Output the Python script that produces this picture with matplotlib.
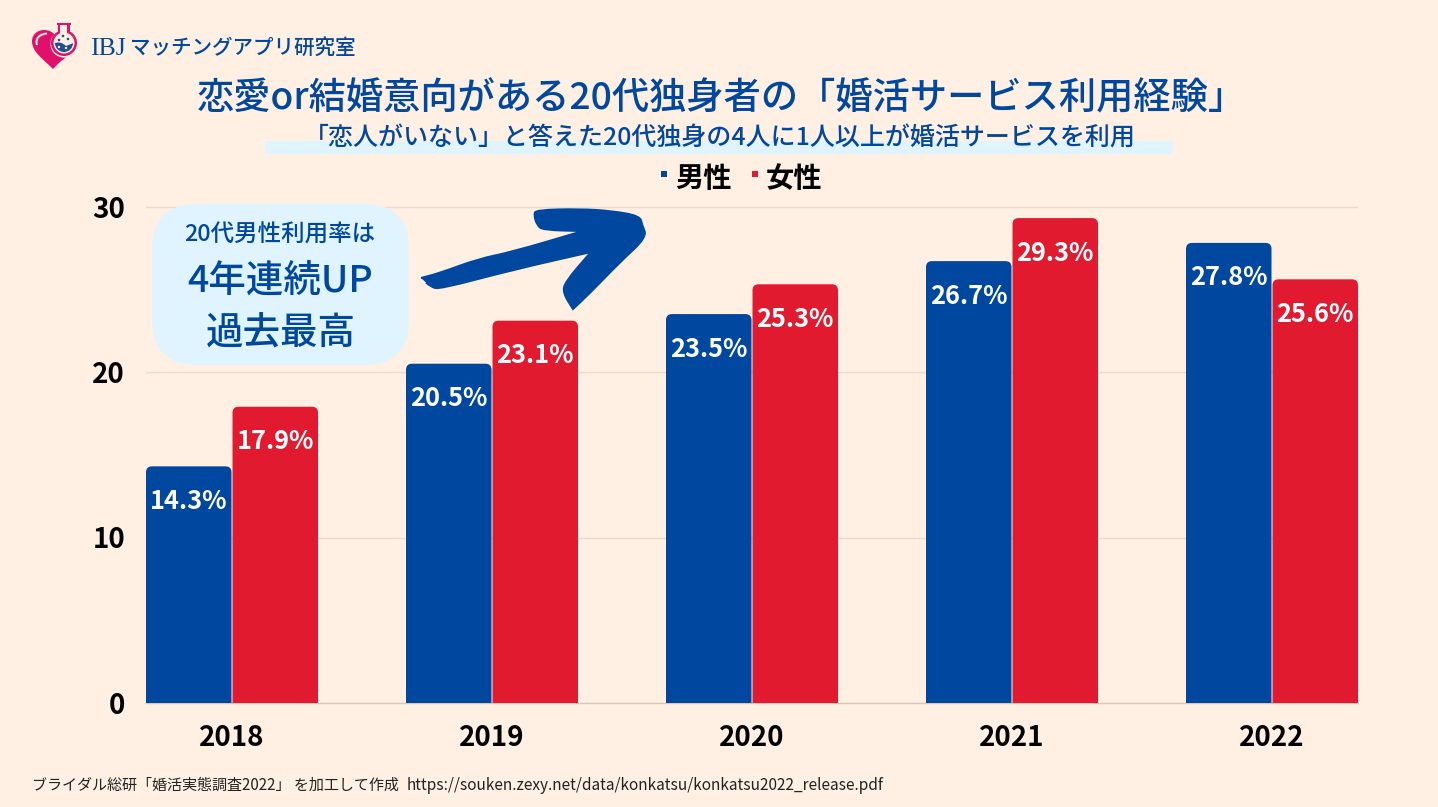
import matplotlib
matplotlib.use("Agg")
import matplotlib.pyplot as plt
from matplotlib.patches import FancyBboxPatch, Rectangle, Circle, PathPatch
from matplotlib.path import Path

plt.rcParams['font.family'] = ['Noto Sans CJK JP', 'DejaVu Sans']

years = ["2018", "2019", "2020", "2021", "2022"]
male = [14.3, 20.5, 23.5, 26.7, 27.8]
female = [17.9, 23.1, 25.3, 29.3, 25.6]
y_ticks = [0, 10, 20, 30]
series_names = ["男性", "女性"]

title = "恋愛or結婚意向がある20代独身者の「婚活サービス利用経験」"
subtitle = "「恋人がいない」と答えた20代独身の4人に1人以上が婚活サービスを利用"
source_ja = "ブライダル総研「婚活実態調査2022」 を加工して作成"
source_url = "https://souken.zexy.net/data/konkatsu/konkatsu2022_release.pdf"

BG = "#FFF0E3"
BLUE = "#0047A0"
RED = "#E21A30"
PALE = "#E0F4FF"
GRID = "#EADBCC"
PINK = "#E0116B"
NAVY = "#20508F"
W, H = 1438, 807

fig = plt.figure(figsize=(W / 100, H / 100), dpi=100, facecolor=BG)

# plot area in pixels
L, R, T, B = 146, 1358, 206.5, 703
ax = fig.add_axes([L / W, 1 - B / H, (R - L) / W, (B - T) / H], facecolor="none")
unit = 260.0
half = 86.0 / unit
ax.set_xlim(-half, len(years) - 1 + half)
ax.set_ylim(0, 30)
ypx = (B - T) / 30.0
bw = 85.5 / unit
gap = 1.0 / unit
aspect = unit / ypx
radius = 6.0 / unit

def rounded_bar(x, v, color):
    p = FancyBboxPatch((x, -1), bw, v + 1,
                       boxstyle=f"round,pad=0,rounding_size={radius}",
                       mutation_aspect=aspect, fc=color, ec="none", zorder=3)
    ax.add_patch(p)
    p.set_clip_path(ax.patch)

for i, (m, f) in enumerate(zip(male, female)):
    x0 = i - bw - gap / 2
    x1 = i + gap / 2
    rounded_bar(x0, m, BLUE)
    rounded_bar(x1, f, RED)
    ax.annotate(f"{m:.1f}%", (x0 + bw / 2, m), xytext=(0, -25.2), textcoords="offset points",
                ha="center", va="center", color="white", fontsize=18.3, fontweight="bold", zorder=4)
    ax.annotate(f"{f:.1f}%", (x1 + bw / 2, f), xytext=(0, -25.2), textcoords="offset points",
                ha="center", va="center", color="white", fontsize=18.3, fontweight="bold", zorder=4)

ax.set_yticks(y_ticks)
ax.set_xticks(range(len(years)), years)
ax.tick_params(axis="both", length=0, labelsize=20, colors="black")
ax.tick_params(axis="x", pad=15)
ax.tick_params(axis="y", pad=15)
for lab in ax.get_xticklabels() + ax.get_yticklabels():
    lab.set_fontweight("bold")
ax.yaxis.grid(True, color=GRID, lw=1, zorder=0)
ax.set_axisbelow(True)
for s in ax.spines.values():
    s.set_visible(False)
ax.spines["bottom"].set_visible(True)
ax.spines["bottom"].set_color("#D9C8B8")
ax.spines["bottom"].set_linewidth(1)

# overlay in pixel coordinates
ov = fig.add_axes([0, 0, 1, 1], facecolor="none")
ov.set_xlim(0, W)
ov.set_ylim(H, 0)
ov.axis("off")

# logo
C4, C3, MV, LN = Path.CURVE4, Path.CURVE3, Path.MOVETO, Path.LINETO
heart = Path(
    [(53, 69), (42, 58), (32, 52), (32, 41), (32, 34), (38, 30), (44, 30),
     (49, 30), (53, 32), (56, 36), (60, 36), (70, 40), (74, 48), (70, 54), (60, 62), (53, 69)],
    [MV, C4, C4, C4, C4, C4, C4, C4, C4, C4, LN, LN, LN, LN, LN, LN])
ov.add_patch(PathPatch(heart, fc=PINK, ec="none"))
ov.add_patch(PathPatch(Path([(37, 45), (35, 38), (40, 34), (47, 33.5)], [MV, C4, C4, C4]),
                       fc="none", ec=BG, lw=1.4))
ov.add_patch(Circle((64, 44), 13.6, fc=BG, ec="none"))
ov.add_patch(Circle((64, 43), 13, fc=PINK, ec="none"))
ov.add_patch(Rectangle((57.5, 24), 12, 12, fc=PINK, ec="none"))
ov.add_patch(Rectangle((56.5, 23), 14, 2.4, fc=PINK, ec="none"))
ov.add_patch(Circle((64, 43), 10.5, fc=BG, ec="none"))
ov.add_patch(Rectangle((60, 25.4), 7, 12, fc=BG, ec="none"))
ov.add_patch(Rectangle((56.5, 23), 14, 2.4, fc=PINK, ec="none"))
liquid = PathPatch(Path(
    [(53, 44), (60, 40), (66, 46), (76, 42), (76, 56), (53, 56), (53, 44)],
    [MV, C3, C3, LN, LN, LN, LN]), fc=NAVY, ec="none")
ov.add_patch(liquid)
liquid.set_clip_path(Circle((64, 43), 9, transform=ov.transData))
for cx, cy in [(63, 36), (59, 40), (68, 39)]:
    ov.add_patch(Circle((cx, cy), 1.3, fc=NAVY, ec="none"))
for cx, cy in [(59, 47), (66, 48)]:
    ov.add_patch(Circle((cx, cy), 1.2, fc=BG, ec="none"))

ov.text(90, 49, "IBJ", family=["Liberation Serif"], fontsize=18.5, color=BLUE, ha="left", va="center")
ov.text(129.5, 48, "マッチングアプリ研究室", fontsize=14.8, color=BLUE, ha="left", va="center", fontweight="medium")

# titles
ov.text(721, 98, title, fontsize=26.8, color=BLUE, ha="center", va="center", fontweight="medium")
ov.add_patch(Rectangle((265, 141), 908, 13, fc=PALE, ec="none"))
ov.text(720, 139, subtitle, fontsize=18, color=BLUE, ha="center", va="center", fontweight="medium")

# legend
ov.add_patch(Rectangle((661, 171), 6, 6, fc=BLUE, ec="none"))
ov.text(675, 179, series_names[0], fontsize=20.3, fontweight="bold", color="black", ha="left", va="center")
ov.add_patch(Rectangle((752, 171), 6, 6, fc=RED, ec="none"))
ov.text(766, 179, series_names[1], fontsize=20.3, fontweight="bold", color="black", ha="left", va="center")

# callout
ov.add_patch(FancyBboxPatch((152, 204), 257, 161, boxstyle="round,pad=0,rounding_size=45",
                            fc=PALE, ec="none", zorder=5))
ov.text(280, 235, "20代男性利用率は", fontsize=16.9, color=BLUE, ha="center", va="center", zorder=6, fontweight="medium")
ov.text(280, 281, "4年連続UP", fontsize=27, color=BLUE, ha="center", va="center", zorder=6, fontweight="medium")
ov.text(281, 333.5, "過去最高", fontsize=27, color=BLUE, ha="center", va="center", zorder=6, fontweight="medium")

# hand-drawn arrow: traced outline, smoothed with quadratic segments; repeated points stay sharp
arrow_px = [(421, 278), (421, 278), (440, 273), (478, 259), (512, 252), (583, 231), (583, 231), (583, 231),
            (543, 230), (537, 225), (534, 215), (536, 210), (580, 209), (612, 211), (640, 216), (642, 225),
            (647, 237), (620, 262), (590, 293), (573, 309), (573, 309), (563, 293), (565, 282),
            (591, 252), (591, 252), (591, 252), (512, 270), (440, 289), (431, 287)]
verts, codes = [arrow_px[0]], [MV]
for a, b in zip(arrow_px[1:], arrow_px[2:] + arrow_px[:1]):
    mid = ((a[0] + b[0]) / 2, (a[1] + b[1]) / 2)
    verts += [a, mid]
    codes += [C3, C3]
ov.add_patch(PathPatch(Path(verts, codes), fc=BLUE, ec=BLUE, lw=1.5, zorder=6))

ov.text(32, 785, source_ja, fontsize=10.85, color="#222222", ha="left", va="center")
ov.text(407, 785, source_url, fontsize=11.1, color="#222222", ha="left", va="center")

fig.savefig("out.png", dpi=100, facecolor=BG)
